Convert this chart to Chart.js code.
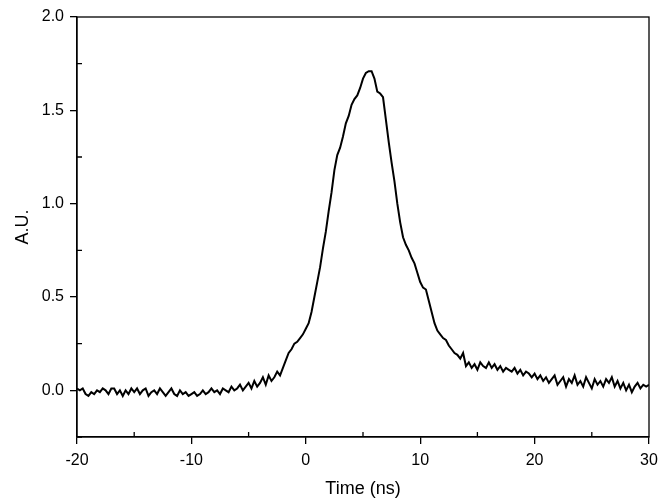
<!DOCTYPE html>
<html>
<head>
<meta charset="utf-8">
<script src="https://cdn.jsdelivr.net/npm/chart.js@4"></script>
<style>
  html, body { margin: 0; padding: 0; background: #fff; }
  #wrap { width: 670px; height: 500px; }
</style>
</head>
<body>
<div id="wrap"><canvas id="c"></canvas></div>
<script>
// signal sampled every 0.25 ns from -20 to 30
const tStart = -20, tStep = 0.25;
const signal = [
  0.01, 0.00, 0.01, -0.02, -0.03, -0.01, -0.02, 0.00, -0.01, 0.01, 0.00, -0.02, 0.01, 0.01, -0.02, 0.00,
  -0.03, 0.00, -0.02, 0.01, -0.01, 0.01, -0.02, 0.00, 0.01, -0.03, -0.01, 0.00, -0.02, 0.01, -0.01, -0.03,
  -0.01, 0.01, -0.02, -0.03, 0.00, -0.02, -0.01, -0.03, -0.02, -0.01, -0.03, -0.02, 0.00, -0.02, -0.01, 0.01,
  -0.01, 0.00, -0.02, 0.01, 0.00, -0.01, 0.02, 0.00, 0.01, 0.03, 0.00, 0.02, 0.04, 0.01, 0.05, 0.02,
  0.04, 0.07, 0.03, 0.08, 0.05, 0.07, 0.10, 0.08, 0.12, 0.16, 0.20, 0.22, 0.25, 0.26, 0.28, 0.30,
  0.33, 0.36, 0.42, 0.50, 0.58, 0.66, 0.76, 0.85, 0.96, 1.06, 1.18, 1.26, 1.30, 1.36, 1.43, 1.47,
  1.53, 1.56, 1.58, 1.62, 1.67, 1.70, 1.71, 1.71, 1.67, 1.60, 1.59, 1.57, 1.45, 1.33, 1.22, 1.12,
  1.00, 0.90, 0.82, 0.78, 0.75, 0.71, 0.68, 0.63, 0.58, 0.55, 0.54, 0.48, 0.42, 0.36, 0.32, 0.30,
  0.28, 0.27, 0.24, 0.22, 0.20, 0.19, 0.17, 0.20, 0.13, 0.15, 0.12, 0.14, 0.11, 0.15, 0.13, 0.12,
  0.15, 0.12, 0.14, 0.11, 0.13, 0.10, 0.12, 0.11, 0.10, 0.12, 0.09, 0.11, 0.08, 0.10, 0.09, 0.07,
  0.09, 0.06, 0.08, 0.05, 0.07, 0.04, 0.06, 0.08, 0.03, 0.05, 0.07, 0.02, 0.06, 0.04, 0.08, 0.03,
  0.05, 0.02, 0.07, 0.04, 0.01, 0.06, 0.03, 0.05, 0.02, 0.06, 0.04, 0.07, 0.02, 0.05, 0.01, 0.04,
  0.00, 0.03, -0.01, 0.02, 0.04, 0.01, 0.03, 0.02, 0.03
];
const xTicks = [-20, -10, 0, 10, 20, 30];
const xMinor = [-15, -5, 5, 15, 25];
const yTicks = [0.0, 0.5, 1.0, 1.5, 2.0];
const yMinor = [-0.25, 0.25, 0.75, 1.25, 1.75];

const points = signal.map((v, i) => ({ x: tStart + i * tStep, y: v }));
const FONT = 'Arial, "Liberation Sans", sans-serif';

// box around plot + minor ticks pointing inward
const frame = {
  id: 'frame',
  afterDraw(chart) {
    const { ctx, chartArea: a, scales: { x, y } } = chart;
    ctx.save();
    ctx.strokeStyle = '#000';
    ctx.lineWidth = 1.3;
    ctx.strokeRect(a.left, a.top, a.right - a.left, a.bottom - a.top);
    ctx.beginPath();
    xMinor.forEach(v => { const px = x.getPixelForValue(v); ctx.moveTo(px, a.bottom); ctx.lineTo(px, a.bottom - 5); });
    yMinor.forEach(v => { const py = y.getPixelForValue(v); ctx.moveTo(a.left, py); ctx.lineTo(a.left + 5, py); });
    ctx.stroke();
    ctx.restore();
  }
};

new Chart(document.getElementById('c'), {
  type: 'line',
  plugins: [frame],
  data: { datasets: [{ data: points, borderColor: '#000', borderWidth: 2, pointRadius: 0, tension: 0 }] },
  options: {
    responsive: true, maintainAspectRatio: false, animation: false,
    layout: { padding: { top: 17, right: 21, left: 0, bottom: 0 } },
    plugins: { legend: { display: false }, tooltip: { enabled: false } },
    scales: {
      x: {
        type: 'linear', min: -20, max: 30,
        afterBuildTicks: s => { s.ticks = xTicks.map(v => ({ value: v })); },
        afterFit: s => { s.height = 63; },
        grid: { drawOnChartArea: false, tickLength: 7, color: '#000', lineWidth: 1.3 },
        border: { color: '#000', width: 1.3 },
        ticks: { color: '#000', font: { family: FONT, size: 16 }, padding: 7 },
        title: { display: true, text: 'Time (ns)', color: '#000', font: { family: FONT, size: 18 }, padding: { top: 5, bottom: 0 } }
      },
      y: {
        min: -0.25, max: 2.0,
        afterBuildTicks: s => { s.ticks = yTicks.map(v => ({ value: v })); },
        afterFit: s => { s.width = 77; },
        grid: { drawOnChartArea: false, tickLength: 7, color: '#000', lineWidth: 1.3 },
        border: { color: '#000', width: 1.3 },
        ticks: { color: '#000', font: { family: FONT, size: 16 }, padding: 6, callback: v => v.toFixed(1) },
        title: { display: true, text: 'A.U.', color: '#000', font: { family: FONT, size: 18 }, padding: { top: 12, bottom: 6 } }
      }
    }
  }
});
</script>
</body>
</html>
